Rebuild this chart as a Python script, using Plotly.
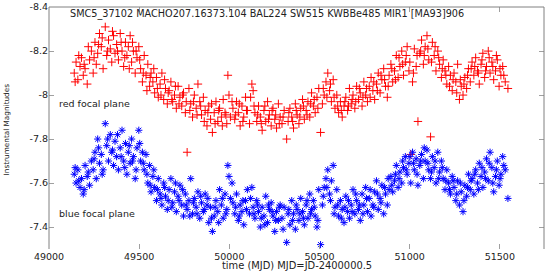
import plotly.graph_objects as go

mjd = [49140, 49150, 49160, 49172, 49180, 49190, 49200, 49212, 49225, 49235,
       49245, 49255, 49262, 49270, 49280, 49290, 49300, 49312, 49320, 49330,
       49340, 49348, 49358, 49366, 49375, 49385, 49395, 49405, 49414, 49424,
       49432, 49440, 49450, 49458, 49468, 49478, 49488, 49498, 49508, 49518,
       49528, 49538, 49548, 49558, 49566, 49576, 49586, 49596, 49606, 49616,
       49626, 49636, 49646, 49656, 49666, 49676, 49686, 49696, 49706, 49716,
       49726, 49736, 49746, 49756, 49766, 49776, 49786, 49796, 49806, 49816,
       49826, 49836, 49846, 49856, 49866, 49876, 49886, 49896, 49906, 49916,
       49926, 49936, 49946, 49956, 49966, 49976, 49986, 49992, 49998, 50006,
       50020, 50030, 50040, 50050, 50060, 50070, 50080, 50090, 50100, 50112,
       50125, 50132, 50142, 50152, 50162, 50172, 50182, 50192, 50202, 50212,
       50222, 50232, 50242, 50252, 50262, 50272, 50282, 50292, 50304, 50318,
       50326, 50336, 50346, 50356, 50366, 50376, 50386, 50396, 50406, 50416,
       50426, 50436, 50446, 50456, 50466, 50476, 50486, 50496, 50506, 50516,
       50526, 50536, 50546, 50556, 50566, 50576, 50586, 50596, 50606, 50616,
       50626, 50636, 50646, 50656, 50666, 50676, 50686, 50696, 50706, 50716,
       50726, 50736, 50746, 50756, 50766, 50776, 50786, 50796, 50806, 50816,
       50826, 50836, 50846, 50856, 50866, 50876, 50886, 50896, 50906, 50916,
       50926, 50936, 50946, 50956, 50966, 50976, 50986, 50996, 51006, 51016,
       51026, 51036, 51046, 51056, 51066, 51076, 51086, 51096, 51106, 51116,
       51126, 51136, 51146, 51156, 51166, 51176, 51186, 51196, 51206, 51216,
       51226, 51236, 51246, 51256, 51266, 51276, 51286, 51296, 51306, 51316,
       51326, 51336, 51346, 51356, 51366, 51376, 51386, 51396, 51406, 51416,
       51426, 51436, 51446, 51456, 51466, 51476, 51486, 51496, 51506, 51516,
       51530, 51545,
       49145, 49165, 49195, 49218, 49250, 49275, 49295, 49325, 49352, 49380,
       49400, 49420, 49445, 49463, 49483, 49503, 49523, 49543, 49561, 49581,
       49601, 49621, 49641, 49661, 49681, 49701, 49721, 49741, 49761, 49781,
       49801, 49821, 49841, 49861, 49881, 49901, 49921, 49941, 49961, 49981,
       50015, 50035, 50055, 50075, 50095, 50118, 50137, 50157, 50177, 50197,
       50217, 50237, 50257, 50277, 50298, 50330, 50351, 50371, 50391, 50411,
       50431, 50451, 50471, 50491, 50521, 50541, 50561, 50581, 50601, 50621,
       50641, 50661, 50681, 50701, 50721, 50741, 50761, 50781, 50801, 50821,
       50841, 50861, 50881, 50901, 50921, 50941, 50961, 50981, 51001, 51021,
       51041, 51061, 51081, 51101, 51121, 51141, 51161, 51181, 51201, 51221,
       51241, 51261, 51281, 51301, 51321, 51341, 51361, 51381, 51401, 51421,
       51441, 51461, 51481, 51501, 51522]

red_mag = [-8.10, -8.15, -8.07, -8.13, -8.17, -8.09, -8.12, -8.05, -8.16, -8.20,
           -8.10, -8.24, -8.14, -8.19, -8.28, -8.22, -8.12, -8.31, -8.18, -8.25,
           -8.21, -8.15, -8.27, -8.19, -8.23, -8.16, -8.28, -8.20, -8.13, -8.24,
           -8.18, -8.22, -8.27, -8.15, -8.20, -8.10, -8.17, -8.22, -8.12, -8.06,
           -8.18, -8.09, -8.14, -8.04, -8.10, -8.06, -8.01, -8.08, -7.99, -8.05,
           -8.10, -7.98, -8.03, -7.96, -8.02, -8.06, -7.97, -8.00, -7.94, -8.04,
           -7.99, -7.95, -8.01, -7.92, -7.74, -8.03, -7.96, -7.90, -8.00, -7.94,
           -8.05, -7.97, -7.91, -7.99, -7.93, -7.86, -7.95, -7.89, -7.83, -7.92,
           -7.97, -7.88, -7.94, -7.90, -7.98, -7.92, -7.87, -8.09, -8.00, -7.90,
           -7.94, -7.89, -7.97, -7.92, -7.86, -7.95, -7.90, -7.99, -7.93, -7.87,
           -8.05, -8.02, -7.92, -7.88, -7.95, -7.90, -7.84, -7.93, -7.88, -7.97,
           -7.91, -7.86, -7.94, -7.89, -7.85, -7.96, -7.90, -7.87, -7.93, -7.80,
           -7.88, -7.94, -7.90, -7.85, -7.96, -7.91, -7.87, -7.94, -7.98, -7.89,
           -7.93, -7.97, -7.90, -8.01, -7.95, -7.92, -7.99, -8.03, -7.83, -7.96,
           -8.00, -8.06, -8.10, -8.02, -7.97, -8.07, -7.94, -8.00, -7.92, -7.97,
           -7.90, -7.95, -7.99, -7.93, -8.03, -7.96, -8.00, -7.94, -8.04, -7.98,
           -8.01, -7.95, -8.06, -8.00, -7.97, -8.04, -8.08, -8.02, -7.98, -8.05,
           -8.10, -8.01, -8.07, -8.12, -8.04, -7.99, -8.09, -8.14, -8.06, -8.11,
           -8.18, -8.08, -8.13, -8.20, -8.09, -8.15, -8.22, -8.11, -7.73, -8.06,
           -8.21, -8.13, -7.88, -8.19, -8.25, -8.14, -8.22, -8.27, -8.16, -7.81,
           -8.24, -8.18, -8.11, -8.20, -8.14, -8.08, -8.16, -8.11, -8.05, -8.13,
           -8.09, -8.02, -8.10, -8.06, -8.14, -7.98, -8.04, -8.00, -8.08, -8.03,
           -8.12, -8.06, -8.15, -8.09, -8.17, -8.11, -8.05, -8.14, -8.19, -8.08,
           -8.13, -8.20, -8.10, -8.15, -8.07, -8.11, -8.16, -8.04, -8.09, -8.13,
           -8.06, -8.03,
           -8.06, -8.18, -8.14, -8.22, -8.17, -8.23, -8.26, -8.20, -8.29, -8.20,
           -8.24, -8.17, -8.12, -8.24, -8.20, -8.16, -8.10, -8.02, -8.08, -8.12,
           -8.03, -8.00, -8.07, -8.01, -7.98, -8.04, -7.96, -8.00, -7.97, -7.93,
           -7.97, -7.91, -7.95, -7.88, -7.92, -7.96, -7.87, -7.93, -7.86, -7.91,
           -7.97, -7.91, -7.96, -7.88, -7.93, -7.99, -7.95, -7.91, -7.87, -7.95,
           -7.89, -7.93, -7.91, -7.87, -7.90, -7.92, -7.88, -7.93, -7.90, -7.95,
           -7.91, -7.96, -7.98, -7.94, -8.03, -7.99, -8.05, -7.99, -7.95, -7.93,
           -7.97, -7.95, -7.98, -7.97, -8.03, -7.99, -8.03, -7.99, -8.06, -8.02,
           -8.09, -8.07, -8.04, -8.12, -8.07, -8.17, -8.14, -8.18, -8.15, -8.10,
           -8.18, -8.20, -8.18, -8.21, -8.15, -8.22, -8.17, -8.12, -8.09, -8.04,
           -8.07, -8.01, -8.07, -8.05, -8.09, -8.12, -8.13, -8.10, -8.16, -8.11,
           -8.17, -8.13, -8.18, -8.12, -8.09]

blue_mag = [-7.64, -7.60, -7.66, -7.58, -7.62, -7.55, -7.68, -7.63, -7.59, -7.70,
            -7.66, -7.74, -7.62, -7.80, -7.69, -7.73, -7.66, -7.87, -7.77, -7.70,
            -7.82, -7.74, -7.68, -7.79, -7.72, -7.66, -7.76, -7.84, -7.70, -7.78,
            -7.64, -7.74, -7.69, -7.80, -7.72, -7.62, -7.76, -7.84, -7.70, -7.74,
            -7.66, -7.73, -7.60, -7.68, -7.56, -7.63, -7.58, -7.52, -7.62, -7.55,
            -7.50, -7.60, -7.54, -7.48, -7.57, -7.62, -7.51, -7.56, -7.47, -7.54,
            -7.59, -7.50, -7.45, -7.55, -7.48, -7.52, -7.62, -7.46, -7.53, -7.49,
            -7.56, -7.44, -7.51, -7.47, -7.55, -7.50, -7.42, -7.49, -7.38, -7.45,
            -7.52, -7.47, -7.57, -7.50, -7.44, -7.55, -7.48, -7.68, -7.63, -7.53,
            -7.51, -7.46, -7.55, -7.43, -7.50, -7.47, -7.41, -7.52, -7.57, -7.46,
            -7.58, -7.49, -7.44, -7.52, -7.47, -7.40, -7.49, -7.45, -7.54, -7.42,
            -7.48, -7.51, -7.45, -7.38, -7.47, -7.43, -7.50, -7.44, -7.49, -7.33,
            -7.46, -7.41, -7.52, -7.46, -7.39, -7.48, -7.43, -7.53, -7.47, -7.41,
            -7.50, -7.44, -7.55, -7.48, -7.52, -7.45, -7.40, -7.57, -7.32, -7.50,
            -7.58, -7.62, -7.66, -7.55, -7.61, -7.68, -7.49, -7.57, -7.45, -7.52,
            -7.48, -7.42, -7.54, -7.47, -7.44, -7.50, -7.57, -7.46, -7.52, -7.48,
            -7.43, -7.55, -7.50, -7.58, -7.47, -7.53, -7.45, -7.50, -7.56, -7.61,
            -7.48, -7.53, -7.59, -7.46, -7.55, -7.50, -7.57, -7.63, -7.56, -7.61,
            -7.68, -7.58, -7.65, -7.60, -7.67, -7.72, -7.64, -7.69, -7.60, -7.74,
            -7.66, -7.71, -7.59, -7.68, -7.73, -7.62, -7.70, -7.75, -7.66, -7.62,
            -7.72, -7.67, -7.60, -7.74, -7.65, -7.70, -7.62, -7.57, -7.66, -7.60,
            -7.55, -7.63, -7.58, -7.52, -7.61, -7.50, -7.56, -7.47, -7.59, -7.54,
            -7.64, -7.57, -7.62, -7.55, -7.66, -7.60, -7.69, -7.63, -7.58, -7.65,
            -7.71, -7.61, -7.74, -7.67, -7.56, -7.63, -7.70, -7.59, -7.64, -7.72,
            -7.66, -7.53,
            -7.67, -7.61, -7.57, -7.65, -7.71, -7.76, -7.64, -7.80, -7.75, -7.82,
            -7.72, -7.67, -7.77, -7.70, -7.66, -7.78, -7.69, -7.64, -7.59, -7.66,
            -7.57, -7.53, -7.58, -7.52, -7.49, -7.60, -7.52, -7.57, -7.50, -7.45,
            -7.51, -7.46, -7.54, -7.48, -7.53, -7.44, -7.49, -7.42, -7.53, -7.46,
            -7.60, -7.49, -7.45, -7.52, -7.48, -7.53, -7.46, -7.50, -7.44, -7.41,
            -7.50, -7.47, -7.43, -7.49, -7.39, -7.48, -7.43, -7.50, -7.46, -7.44,
            -7.52, -7.46, -7.49, -7.43, -7.54, -7.58, -7.52, -7.46, -7.50, -7.44,
            -7.49, -7.52, -7.47, -7.55, -7.50, -7.46, -7.53, -7.57, -7.49, -7.55,
            -7.51, -7.58, -7.62, -7.59, -7.64, -7.62, -7.70, -7.66, -7.72, -7.69,
            -7.64, -7.70, -7.76, -7.69, -7.65, -7.70, -7.62, -7.67, -7.61, -7.57,
            -7.61, -7.55, -7.60, -7.52, -7.58, -7.61, -7.64, -7.57, -7.67, -7.62,
            -7.69, -7.60, -7.66, -7.62, -7.68]

x_ticks = [49000, 49500, 50000, 50500, 51000, 51500]
y_ticks = [-8.4, -8.2, -8.0, -7.8, -7.6, -7.4]
y_tick_text = ["-8.4", "-8.2", "-8", "-7.8", "-7.6", "-7.4"]

title_text = "SMC5_37102 MACHO207.16373.104 BAL224 SW515 KWBBe485 MIR1 [MA93]906"

FONT = "DejaVu Sans"

fig = go.Figure()
fig.add_trace(go.Scatter(
    x=mjd, y=red_mag, mode="markers", name="red focal plane",
    marker=dict(symbol="cross-thin", size=6, color="#ff0000",
                line=dict(width=1, color="#ff0000")),
))
fig.add_trace(go.Scatter(
    x=mjd, y=blue_mag, mode="markers", name="blue focal plane",
    marker=dict(symbol="asterisk", size=6, color="#0000ff",
                line=dict(width=1, color="#0000ff")),
))

axis_common = dict(
    showgrid=False, zeroline=False, ticks="inside", ticklen=5,
    tickcolor="#a0a0a0", tickwidth=1, mirror="ticks", showline=False,
    ticklabeloverflow="allow",
    tickfont=dict(family=FONT, size=9.5, color="#222222"),
)

fig.update_layout(
    width=545, height=273,
    margin=dict(l=49, r=1, t=3, b=24),
    paper_bgcolor="white", plot_bgcolor="white",
    showlegend=False, hovermode=False,
    font=dict(family=FONT, color="#222222"),
    xaxis=dict(range=[49000, 51745], tickvals=x_ticks,
               ticktext=[str(v) for v in x_ticks], **axis_common),
    yaxis=dict(range=[-7.3, -8.4005], tickvals=y_ticks, ticktext=y_tick_text,
               **axis_common),
    shapes=[
        dict(type="line", xref="paper", yref="paper", x0=0, x1=0, y0=0, y1=1,
             line=dict(color="#808080", width=1)),
        dict(type="line", xref="paper", yref="paper", x0=1, x1=1, y0=0, y1=1,
             line=dict(color="#808080", width=1)),
        dict(type="line", xref="paper", yref="paper", x0=0, x1=1, y0=1, y1=1,
             line=dict(color="#808080", width=1)),
    ],
    annotations=[
        dict(text=title_text, xref="paper", yref="paper", x=0.0374, y=0.9715,
             xanchor="left", yanchor="middle", showarrow=False,
             font=dict(family=FONT, size=9.7, color="#222222")),
        dict(text="red focal plane", xref="x", yref="y", x=49047, y=-7.962,
             xanchor="left", yanchor="middle", showarrow=False,
             font=dict(family=FONT, size=9.5, color="#222222")),
        dict(text="blue focal plane", xref="x", yref="y", x=49047, y=-7.4625,
             xanchor="left", yanchor="middle", showarrow=False,
             font=dict(family=FONT, size=9.5, color="#222222")),
        dict(text="Instrumental Magnitudes", xref="paper", yref="paper",
             x=-0.084, y=0.496, xanchor="center", yanchor="middle",
             textangle=-90, showarrow=False,
             font=dict(family="Liberation Sans Narrow, " + FONT, size=7.3, color="#222222")),
        dict(text="time (MJD) MJD=JD-2400000.5", xref="paper", yref="paper",
             x=0.501, y=-0.069, xanchor="center", yanchor="middle",
             showarrow=False,
             font=dict(family=FONT, size=9.9, color="#222222")),
    ],
)

fig.write_html("out.html", config={"displayModeBar": False},
               post_script="document.body.style.margin='0';"
                           "document.body.style.overflow='hidden';")
